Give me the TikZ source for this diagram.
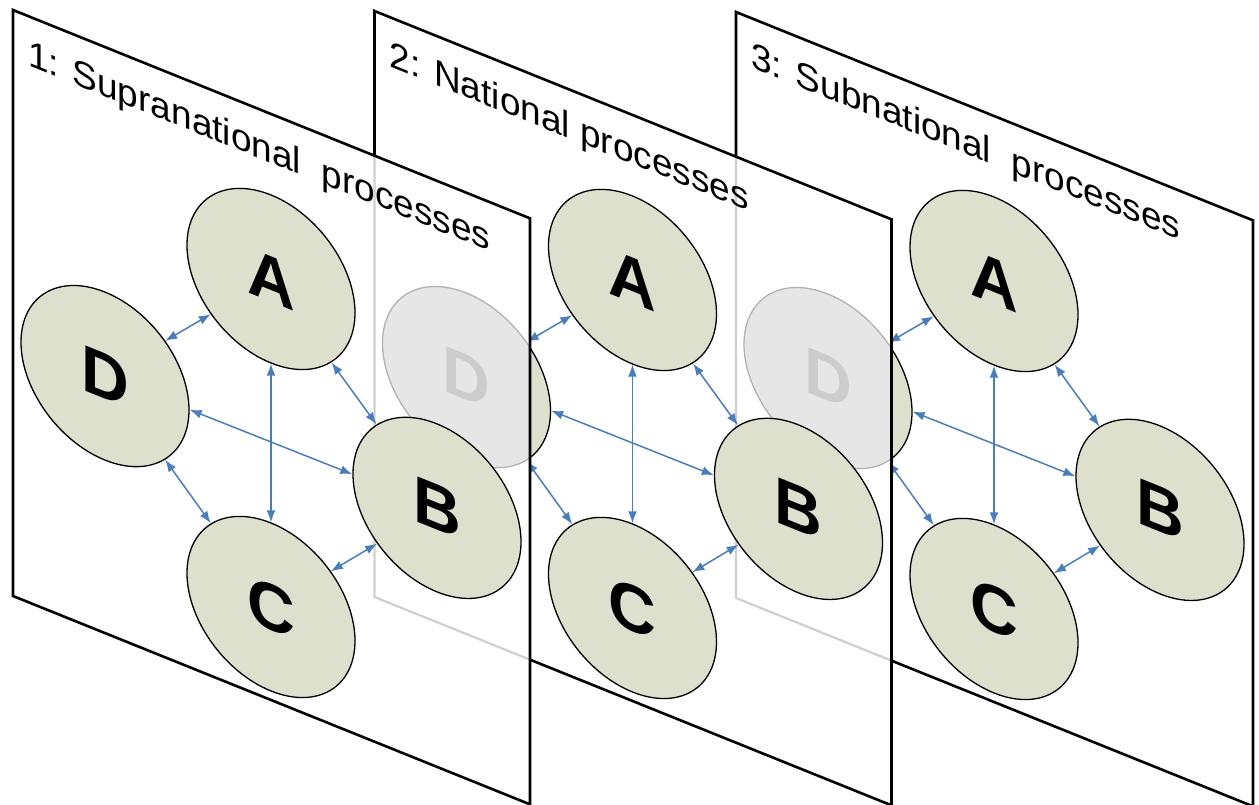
\documentclass[tikz,border=0pt]{standalone}
\usepackage{fontspec}
\setmainfont{Liberation Sans}
\usetikzlibrary{arrows.meta}
\definecolor{nodefill}{RGB}{221,224,204}
\definecolor{linkblue}{RGB}{74,126,187}
\definecolor{ghostfill}{RGB}{230,230,230}
\definecolor{ghostline}{RGB}{178,178,178}
\definecolor{ghostletter}{RGB}{204,204,204}
\definecolor{ghostedge}{RGB}{208,208,208}
\tikzset{
  panelfill/.style={fill=white},
  panelline/.style={draw=black, line width=2.6pt, line join=miter},
  procnode/.style={circle, minimum size=168pt, inner sep=0pt, fill=nodefill,
    draw=black, line width=1.3pt, font=\fontsize{66}{66}\selectfont\bfseries},
  ghostnode/.style={procnode, fill=ghostfill, draw=ghostline, text=ghostletter},
  link/.style={draw=linkblue, line width=1.5pt,
    {Latex[length=12pt,width=9pt]}-{Latex[length=12pt,width=9pt]}},
  paneltitle/.style={anchor=base west, inner sep=0pt, font=\fontsize{37}{40}\selectfont},
  plane/.style 2 args={cm={1,-0.403,0,1,(#1,#2)}, transform shape},
}
\newcommand\panelshape{(0,0) -- (517,0) -- (517,586) -- (0,586) -- cycle}
\newcommand\panelnodes[1]{%
  \node[procnode] (A#1) at (258,165) {A};
  \node[procnode] (B#1) at (424,327) {B};
  \node[procnode] (C#1) at (258,493) {C};
  \node[procnode] (D#1) at (92,329) {D};
  \draw[link] (D#1) -- (A#1);
  \draw[link] (A#1) -- (B#1);
  \draw[link] (B#1) -- (C#1);
  \draw[link] (C#1) -- (D#1);
  \draw[link] (A#1) -- (C#1);
  \draw[link] (D#1) -- (B#1);
}
\begin{document}
\begin{tikzpicture}[x=1pt,y=-1pt]
\useasboundingbox (0,0) rectangle (1259,805);
\clip (0,0) rectangle (1259,805);
% ---------- panel 3 (back) ----------
\begin{scope}[plane={736}{12}]
  \fill[panelfill] \panelshape;
  \draw[panelline] \panelshape;
  \node[paneltitle] (T3) at (15,49) {3: Subnational\ \ processes};
  \panelnodes{3}
\end{scope}
% ---------- panel 2 (middle) ----------
\begin{scope}[plane={374.5}{11}]
  \fill[panelfill] \panelshape;
\end{scope}
\begin{scope}
  \clip (374.5,11) -- (891.5,219.4) -- (891.5,805.4) -- (374.5,597) -- cycle;
  \begin{scope}[plane={736}{12}]
    \draw[ghostedge, line width=2.2pt] (0,0) -- (0,586) -- (517,586);
    \node[ghostnode] (D3g) at (92,329) {D};
  \end{scope}
\end{scope}
\begin{scope}[plane={374.5}{11}]
  \draw[panelline] \panelshape;
  \node[paneltitle] (T2) at (15,49) {2: National processes};
  \panelnodes{2}
\end{scope}
% ---------- panel 1 (front) ----------
\begin{scope}[plane={13}{10}]
  \fill[panelfill] \panelshape;
\end{scope}
\begin{scope}
  \clip (13,10) -- (530,218.4) -- (530,804.4) -- (13,596) -- cycle;
  \begin{scope}[plane={374.5}{11}]
    \draw[ghostedge, line width=2.2pt] (0,0) -- (0,586) -- (517,586);
    \node[ghostnode] (D2g) at (92,329) {D};
  \end{scope}
\end{scope}
\begin{scope}[plane={13}{10}]
  \draw[panelline] \panelshape;
  \node[paneltitle] (T1) at (15,49) {1: Supranational\ \ processes};
  \panelnodes{1}
\end{scope}
\end{tikzpicture}
\end{document}
